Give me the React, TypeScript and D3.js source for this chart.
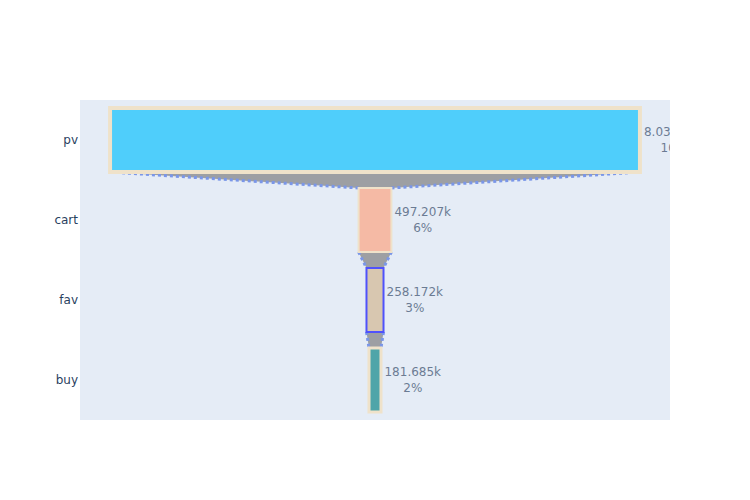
import React, { useEffect, useRef } from "react";
import * as d3 from "d3";

const stages = ["pv", "cart", "fav", "buy"];
const values = [8034214, 497207, 258172, 181685];
const fillColors = ["deepskyblue", "lightsalmon", "tan", "teal"];
const lineColors = ["wheat", "wheat", "blue", "wheat"];
const lineWidths = [4, 2, 2, 3];

const W = 750;
const H = 500;
const M = { l: 80, r: 80, t: 100, b: 80 };
const FONT = '"DejaVu Sans", Verdana, sans-serif';

export default function App() {
  const ref = useRef<SVGSVGElement | null>(null);

  useEffect(() => {
    const svg = d3.select(ref.current);
    svg.selectAll("*").remove();
    const pw = W - M.l - M.r;
    const ph = H - M.t - M.b;

    const maxV = d3.max(values) as number;
    const D = (maxV / 2) * 1.1134;
    const x = d3.scaleLinear().domain([-D, D]).range([M.l, M.l + pw]);
    const y = d3
      .scaleBand<string>()
      .domain(stages)
      .range([M.t, M.t + ph])
      .paddingInner(0.2)
      .paddingOuter(0.1);

    svg.append("rect").attr("x", 0).attr("y", 0).attr("width", W).attr("height", H).attr("fill", "#fff");
    svg
      .append("rect")
      .attr("x", M.l)
      .attr("y", M.t)
      .attr("width", pw)
      .attr("height", ph)
      .attr("fill", "#E5ECF6");

    svg
      .append("defs")
      .append("clipPath")
      .attr("id", "plotclip")
      .append("rect")
      .attr("x", M.l)
      .attr("y", M.t)
      .attr("width", pw)
      .attr("height", ph);

    // y tick labels
    svg
      .append("g")
      .selectAll("text")
      .data(stages)
      .join("text")
      .attr("x", M.l - 2)
      .attr("y", (d) => (y(d) as number) + y.bandwidth() / 2)
      .attr("dy", "0.35em")
      .attr("text-anchor", "end")
      .attr("font-family", FONT)
      .attr("font-size", 12)
      .attr("fill", "#2a3f5f")
      .text((d) => d);

    const g = svg.append("g").attr("opacity", 0.65).attr("clip-path", "url(#plotclip)");

    // connectors
    for (let i = 0; i < stages.length - 1; i++) {
      const y0 = (y(stages[i]) as number) + y.bandwidth();
      const y1 = y(stages[i + 1]) as number;
      const a0 = x(-values[i] / 2), b0 = x(values[i] / 2);
      const a1 = x(-values[i + 1] / 2), b1 = x(values[i + 1] / 2);
      g.append("path")
        .attr("d", `M${a0},${y0}L${b0},${y0}L${b1},${y1}L${a1},${y1}Z`)
        .attr("fill", "#777");
      g.append("path")
        .attr("d", `M${a0},${y0}L${a1},${y1}M${b0},${y0}L${b1},${y1}`)
        .attr("fill", "none")
        .attr("stroke", "royalblue")
        .attr("stroke-width", 3)
        .attr("stroke-dasharray", "3px,3px");
    }

    // bars
    g.selectAll("rect.bar")
      .data(stages)
      .join("rect")
      .attr("class", "bar")
      .attr("x", (_d, i) => x(-values[i] / 2))
      .attr("width", (_d, i) => x(values[i] / 2) - x(-values[i] / 2))
      .attr("y", (d) => y(d) as number)
      .attr("height", y.bandwidth())
      .attr("fill", (_d, i) => fillColors[i])
      .attr("stroke", (_d, i) => lineColors[i])
      .attr("stroke-width", (_d, i) => lineWidths[i]);

    // labels
    const fmt = d3.format(".7~s");
    stages.forEach((s, i) => {
      const v = values[i];
      const x0 = x(v / 2) + lineWidths[i] / 2 + 2;
      const cy = (y(s) as number) + y.bandwidth() / 2;
      const pct = Math.round((v / values[0]) * 100) + "%";
      const t1 = g
        .append("text")
        .attr("x", x0)
        .attr("y", cy - 7.8)
        .attr("dy", "0.35em")
        .attr("font-family", FONT)
        .attr("font-size", 12)
        .attr("fill", "#2a3f5f")
        .text(fmt(v));
      const w1 = (t1.node() as SVGTextElement).getComputedTextLength();
      g.append("text")
        .attr("x", x0 + w1 / 2)
        .attr("y", cy + 7.8)
        .attr("dy", "0.35em")
        .attr("text-anchor", "middle")
        .attr("font-family", FONT)
        .attr("font-size", 12)
        .attr("fill", "#2a3f5f")
        .text(pct);
    });
  }, []);

  return (
    <svg
      ref={ref}
      width={W}
      height={H}
      style={{ display: "block", position: "absolute", left: 0, top: 0 }}
    />
  );
}
